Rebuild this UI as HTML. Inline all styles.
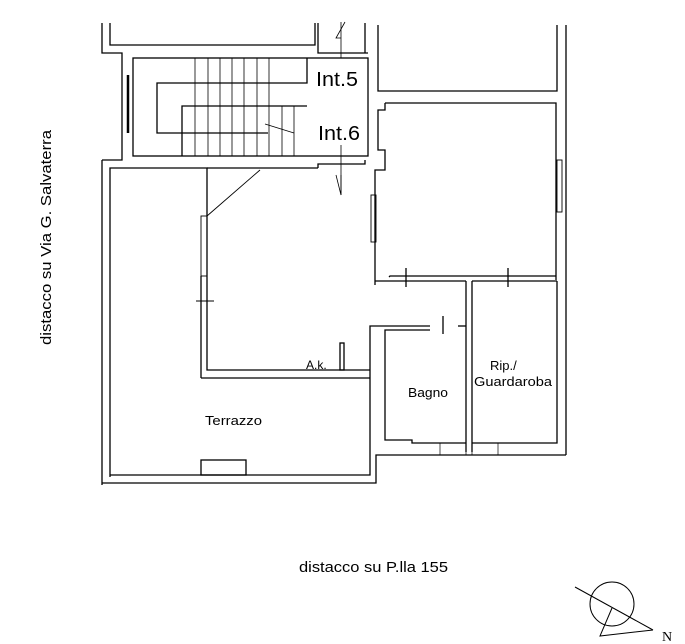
<!DOCTYPE html>
<html><head><style>body{margin:0;background:#fff}svg{display:block}</style></head><body>
<svg width="685" height="644" viewBox="0 0 685 644" xmlns="http://www.w3.org/2000/svg" font-family="Liberation Sans, sans-serif">
<g stroke="#000" stroke-width="1.3" fill="none">
<polyline points="110,23 110,45 315,45 315,23"/>
<polyline points="102,23 102,53 122,53 122,160 102,160"/>
<polyline points="318,23 318,53 368,53"/>
<line x1="365" y1="23" x2="365" y2="53"/>
<polyline points="378,25 378,91 557,91 557,25"/>
<line x1="566" y1="25" x2="566" y2="455"/>
<rect x="133" y="58" width="235" height="98"/>
<polyline points="307,58 307,83 157,83 157,133 268,133"/>
<polyline points="182,156 182,106 307,106"/>
<g stroke-width="0.8">
<line x1="195" y1="58" x2="195" y2="156"/><line x1="208" y1="58" x2="208" y2="156"/>
<line x1="220" y1="58" x2="220" y2="156"/><line x1="232" y1="58" x2="232" y2="156"/>
<line x1="244" y1="58" x2="244" y2="156"/><line x1="257" y1="58" x2="257" y2="156"/>
<line x1="269" y1="58" x2="269" y2="156"/><line x1="282" y1="106" x2="282" y2="156"/>
<line x1="294" y1="106" x2="294" y2="156"/>
<line x1="265" y1="124" x2="294" y2="133"/>
<line x1="341" y1="22" x2="341" y2="58"/><polyline points="345,22 336,38 341,38"/>
<line x1="341" y1="145" x2="341" y2="195"/><polyline points="336,175 341,195 341,175"/>
</g>
<line x1="128" y1="75" x2="128" y2="133" stroke-width="2.5"/>
<polyline points="110,477 110,168 207,168 207,370 370,370"/>
<line x1="207" y1="168" x2="318" y2="168"/>
<polyline points="318,168 318,164 365,164 365,160"/>
<line x1="102" y1="160" x2="102" y2="485"/>
<line x1="260" y1="170" x2="207" y2="216" stroke-width="0.9"/>
<rect x="201" y="216" width="6" height="60" stroke-width="0.9"/>
<line x1="201" y1="276" x2="201" y2="378"/>
<line x1="196" y1="301" x2="214" y2="301" stroke-width="0.9"/>
<line x1="201" y1="378" x2="370" y2="378"/>
<polyline points="370,378 370,475 110,475"/>
<polyline points="102,483 376,483 376,455 566,455"/>
<rect x="201" y="460" width="45" height="15"/>
<rect x="340" y="343" width="4" height="27"/>
<polyline points="385,103 556,103 556,280"/>
<polyline points="385,103 385,110 378,110 378,150 385,150 385,170 375,170 375,285"/>
<rect x="371" y="195" width="5" height="47" stroke-width="0.9"/>
<rect x="557" y="160" width="5" height="52" stroke-width="0.9"/>
<polyline points="389,277 390,276 556,276"/>
<line x1="375" y1="281" x2="466" y2="281"/>
<line x1="472" y1="281" x2="557" y2="281"/>
<line x1="406" y1="268" x2="406" y2="287"/><line x1="508" y1="268" x2="508" y2="287"/>
<polyline points="370,378 370,326 430,326"/>
<polyline points="458,326 466,326"/>
<line x1="443" y1="316" x2="443" y2="334"/>
<polyline points="430,330 385,330 385,440 412,440 412,443 466,443"/>
<line x1="466" y1="281" x2="466" y2="452"/>
<line x1="472" y1="281" x2="472" y2="452"/>
<polyline points="472,443 557,443 557,281"/>
<rect x="440" y="443" width="26" height="12" stroke-width="0.7"/>
<rect x="472" y="443" width="26" height="12" stroke-width="0.7"/>
<circle cx="612" cy="604" r="22" stroke-width="1"/>
<line x1="575" y1="587" x2="653" y2="630" stroke-width="1"/>
<polyline points="612,608 600,636 653,630" stroke-width="1"/>
</g>
<g fill="#000">
<text x="316" y="86" font-size="20" textLength="42" lengthAdjust="spacingAndGlyphs">Int.5</text>
<text x="318" y="140" font-size="20" textLength="42" lengthAdjust="spacingAndGlyphs">Int.6</text>
<text x="306" y="369" font-size="12">A.k.</text>
<text x="205" y="425" font-size="13" textLength="57" lengthAdjust="spacingAndGlyphs">Terrazzo</text>
<text x="408" y="397" font-size="13" textLength="40" lengthAdjust="spacingAndGlyphs">Bagno</text>
<text x="490" y="370" font-size="13">Rip./</text>
<text x="474" y="386" font-size="13" textLength="78" lengthAdjust="spacingAndGlyphs">Guardaroba</text>
<text x="299" y="572" font-size="15" textLength="149" lengthAdjust="spacingAndGlyphs">distacco su P.lla 155</text>
<text x="662" y="641" font-size="14" font-family="Liberation Serif, serif">N</text>
<text transform="translate(51,345) rotate(-90)" font-size="15" textLength="215" lengthAdjust="spacingAndGlyphs">distacco su Via G. Salvaterra</text>
</g>
</svg>
</body></html>
